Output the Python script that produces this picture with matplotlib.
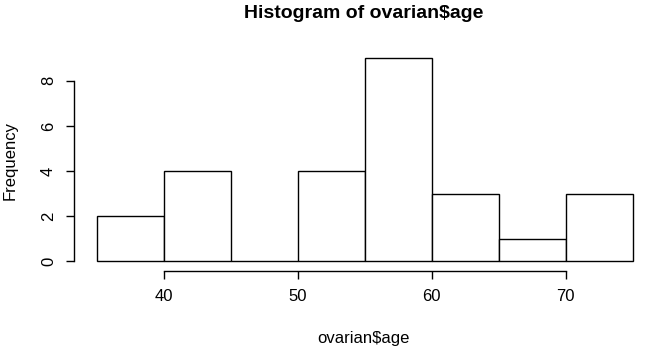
import numpy as np
import matplotlib.pyplot as plt

plt.rcParams['font.family'] = ['Liberation Sans', 'DejaVu Sans']

# histogram of ovarian$age (bin edges and counts)
bin_edges = [35, 40, 45, 50, 55, 60, 65, 70, 75]
counts = [2, 4, 0, 4, 9, 3, 1, 3]
x_ticks = [40, 50, 60, 70]
y_ticks = [0, 2, 4, 6, 8]

W, H = 647, 353
fig = plt.figure(figsize=(W / 100, H / 100), dpi=100)

# plot region in pixels (R-like layout)
left_px, right_px = 74, 640
top_px, bottom_px = 50, 270.7
ax = fig.add_axes([left_px / W, 1 - bottom_px / H,
                   (right_px - left_px) / W, (bottom_px - top_px) / H])

xscale = 13.4   # px per unit
yscale = 22.56
x0 = 35 - (96.7 - left_px) / xscale
y0 = 0 - (bottom_px - 261.3) / yscale
ax.set_xlim(x0, x0 + (right_px - left_px) / xscale)
ax.set_ylim(y0, y0 + (bottom_px - top_px) / yscale)

widths = np.diff(bin_edges)
ax.bar(bin_edges[:-1], counts, width=widths, align='edge',
       facecolor='white', edgecolor='black', linewidth=1.0)

for s in ['top', 'right']:
    ax.spines[s].set_visible(False)
ax.spines['left'].set_bounds(0, 8)
ax.spines['bottom'].set_bounds(40, 70)
ax.spines['left'].set_linewidth(1.0)
ax.spines['bottom'].set_linewidth(1.0)

ax.set_xticks(x_ticks)
ax.set_yticks(y_ticks)
ax.tick_params(axis='both', length=6, width=1.0, labelsize=12, pad=7)
ax.set_yticklabels([str(v) for v in y_ticks], rotation=90, va='center')

fig.text(363.5 / W, 1 - 13 / H, 'Histogram of ovarian$age', ha='center', va='center',
         fontsize=14, fontweight='bold')
fig.text(363 / W, 1 - 339 / H, 'ovarian$age', ha='center', va='center', fontsize=12)
fig.text(10 / W, 1 - 160 / H, 'Frequency', ha='center', va='center', fontsize=12, rotation=90)

fig.savefig('out.png', dpi=100)
